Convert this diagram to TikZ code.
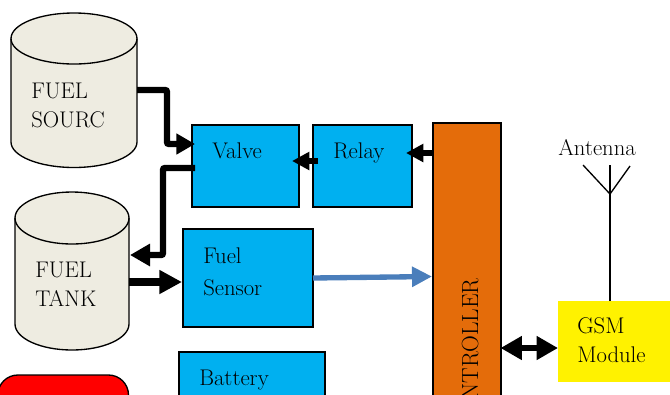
\documentclass[tikz,border=0pt]{standalone}
\usepackage{tikz}
\usepackage{xcolor}
\usetikzlibrary{arrows.meta}
\usetikzlibrary{positioning}
\definecolor{boxblue}{HTML}{00B0F0}
\definecolor{ctrlorange}{HTML}{E46C0A}
\definecolor{tankgrey}{HTML}{EEECE1}
\definecolor{wireblue}{HTML}{4A7EBB}
\tikzset{
    tankline/.style={draw=black, line width=1pt, fill=tankgrey},
    block/.style={draw=black, line width=1pt, fill=boxblue, inner sep=0pt, outer sep=0pt},
    lbl/.style={anchor=base west, inner sep=0pt, align=left, font=\fontsize{17}{21.5}\selectfont},
    pipe/.style={line width=4.8pt, rounded corners=1.5pt},
}
% left edge, top, bottom, x radius, y radius
\newcommand{\drumshape}[5]{
    \draw[tankline] (#1,#2+#5) -- (#1,#3-#5) arc (180:0:#4 and #5) -- (#1+2*#4,#2+#5) arc (0:-180:#4 and #5) -- cycle;
    \draw[tankline, fill=none] (#1,#2+#5) arc (180:0:#4 and #5);
}
\begin{document}
\begin{tikzpicture}[x=0.75pt,y=-0.75pt]
    \useasboundingbox (0,0) rectangle (670,394);
    \clip (0,0) rectangle (670,394);
    \drumshape{11}{13}{167.5}{63}{25.5}
    \drumshape{15}{192}{350}{57}{26}
    \node[block, minimum width=80.25pt, minimum height=61.5pt] (valve) at (245.5,166) {};
    \node[block, minimum width=74.25pt, minimum height=61.5pt, right=10.5pt of valve] (relay) {};
    \node[block, minimum width=97.5pt, minimum height=73.5pt] (sensor) at (248,278) {};
    \node[block, minimum width=109.5pt, minimum height=60pt, anchor=north west] (battery) at (179,352) {};
    \node[draw=black, line width=1pt, fill=red, rounded corners=15pt, minimum width=98pt, minimum height=60pt, outer sep=0pt, anchor=north east] (alarm) at (128.5,375) {};
    \node[draw=black, line width=1.5pt, fill=ctrlorange, minimum width=51pt, minimum height=270pt, inner sep=0pt, outer sep=0pt, anchor=north west] (ctrl) at (432.5,123) {};
    \node[fill=yellow, minimum width=84pt, minimum height=60.75pt, inner sep=0pt, outer sep=0pt, anchor=north west] (gsm) at (558,301) {};

    \node[lbl] (sourcetxt) at (31,127) {FUEL\\SOURC};
    \node[lbl] (tanktxt) at (35,306) {FUEL\\TANK};
    \node[lbl] (valvetxt) at (212,158) {Valve};
    \node[lbl] (relaytxt) at (333,158) {Relay};
    \node[lbl, font=\fontsize{17}{24}\selectfont] (sensortxt) at (203,295) {Fuel\\Sensor};
    \node[lbl] (batterytxt) at (199,385) {Battery};
    \node[lbl] (gsmtxt) at (577,362) {GSM\\Module};
    \node[lbl] (antennatxt) at (558,155) {Antenna};
    \node[anchor=base east, rotate=90, inner sep=0pt, font=\fontsize{17.5}{20}\selectfont] (ctrllbl) at (478,278) {CONTROLLER};

    \coordinate (srcout) at (137,90);
    \coordinate (valvein) at (195,144);
    \coordinate (valveout) at (195,168);
    \coordinate (tankin) at (130,255);
    \coordinate (tankout) at (129,282);
    \coordinate (sensorin) at (182,282);
    \coordinate (relayout) at (318,161);
    \coordinate (valveside) at (292,161);
    \coordinate (relayin) at (406,153);
    \coordinate (ctrlin) at (432,276.5);
    \coordinate (mast) at (610,194);

    \draw[pipe, -{Triangle[length=14pt,width=15pt]}] (srcout) -- (167,90) -- (167,144) -- (valvein);
    \draw[pipe, -{Triangle[length=15pt,width=16pt]}] (valveout) -- (163,168) -- (163,255) -- (tankin);
    \draw[line width=5.6pt, -{Triangle[length=17pt,width=17pt]}] (tankout) -- (sensorin);
    \draw[line width=4.5pt, -{Triangle[length=13pt,width=13pt]}] (relayout) -- (valveside);
    \draw[line width=4.5pt, -{Triangle[length=13pt,width=13pt]}] (ctrl.west |- relayin) -- (relayin);
    \draw[wireblue, line width=4pt, -{Triangle[length=15pt,width=14.5pt]}] (sensor.east) -- (ctrlin);
    \draw[line width=5pt, {Triangle[length=16pt,width=17pt]}-{Triangle[length=16pt,width=17pt]}] (ctrl.east |- 0,348) -- (gsm.west |- 0,348);
    \draw[line width=1pt] (gsm.north -| mast) -- (610,165);
    \draw[line width=1pt] (583,165) -- (mast) -- (630,166);
\end{tikzpicture}
\end{document}
